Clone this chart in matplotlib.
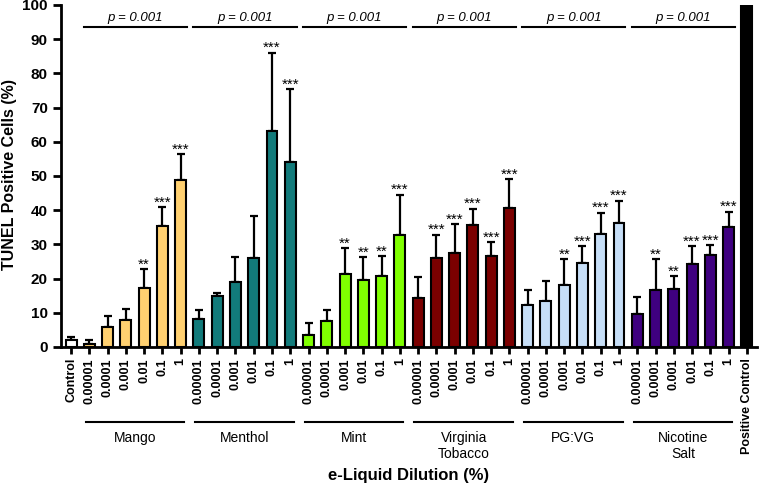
import matplotlib
matplotlib.use("Agg")
import matplotlib.pyplot as plt
import matplotlib.transforms as mtransforms
import numpy as np

plt.rcParams['font.family'] = ['Liberation Sans', 'DejaVu Sans']

groups = ["Mango", "Menthol", "Mint", "Virginia\nTobacco", "PG:VG", "Nicotine\nSalt"]
dilutions = ["0.00001", "0.0001", "0.001", "0.01", "0.1", "1"]
group_colors = ["#FFD070", "#127B7B", "#80FF00", "#7B0000", "#C6DEF7", "#3F0080"]

control_mean = 2.0
control_err = 1.0
positive_mean = 100.0

means = {
    "Mango":    [0.8, 5.7, 7.9, 17.2, 35.4, 48.8],
    "Menthol":  [8.2, 14.8, 19.1, 26.1, 63.1, 54.1],
    "Mint":     [3.4, 7.7, 21.4, 19.6, 20.8, 32.7],
    "Virginia\nTobacco": [14.3, 25.9, 27.5, 35.7, 26.7, 40.5],
    "PG:VG":    [12.2, 13.3, 18.2, 24.6, 33.1, 36.2],
    "Nicotine\nSalt": [9.7, 16.8, 17.0, 24.3, 26.8, 35.1],
}
errs = {
    "Mango":    [1.2, 3.3, 3.1, 5.5, 5.4, 7.5],
    "Menthol":  [2.6, 1.1, 7.1, 12.2, 22.9, 21.2],
    "Mint":     [3.6, 3.2, 7.5, 6.6, 5.7, 11.8],
    "Virginia\nTobacco": [6.3, 6.9, 8.4, 4.7, 3.9, 8.6],
    "PG:VG":    [4.4, 5.9, 7.5, 4.9, 6.2, 6.5],
    "Nicotine\nSalt": [4.9, 8.9, 3.7, 5.2, 2.9, 4.5],
}
stars = {
    "Mango":    ["", "", "", "**", "***", "***"],
    "Menthol":  ["", "", "", "", "***", "***"],
    "Mint":     ["", "", "**", "**", "**", "***"],
    "Virginia\nTobacco": ["", "***", "***", "***", "***", "***"],
    "PG:VG":    ["", "", "**", "***", "***", "***"],
    "Nicotine\nSalt": ["", "**", "**", "***", "***", "***"],
}
p_text = "p = 0.001"

fig = plt.figure(figsize=(7.63, 4.87), dpi=100)
ax = fig.add_axes([0.080, 0.2875, 0.912, 0.7025])

width = 0.6
ekw = dict(elinewidth=1.6, capthick=1.6, ecolor="black")
# control
ax.bar(0, control_mean, width=width, color="white", edgecolor="black", linewidth=1.5, zorder=2)
ax.errorbar(0, control_mean, yerr=[[0], [control_err]], fmt="none", capsize=3, zorder=1, **ekw)

labels = ["Control"]
pos = 1
group_spans = []
for g, col in zip(groups, group_colors):
    xs = np.arange(pos, pos + len(dilutions))
    m = np.array(means[g]); e = np.array(errs[g])
    ax.bar(xs, m, width=width, color=col, edgecolor="black", linewidth=1.5, zorder=2)
    ax.errorbar(xs, m, yerr=[np.zeros_like(e), e], fmt="none", capsize=3, zorder=1, **ekw)
    for x, mv, ev, s in zip(xs, m, e, stars[g]):
        if s:
            ax.text(x, mv + ev + 0.2, s, ha="center", va="baseline", fontsize=11)
    group_spans.append((xs[0], xs[-1], g))
    labels += dilutions
    pos += len(dilutions)

ax.bar(pos, positive_mean, width=width, color="black", edgecolor="black", linewidth=1.5, zorder=2)
labels.append("Positive Control")
n = pos + 1

ax.set_xlim(-0.55, n - 1 + 0.55)
ax.set_ylim(0, 100)
ax.set_yticks(np.arange(0, 101, 10))
ax.set_xticks(np.arange(n))
ax.set_xticklabels(labels, rotation=90, fontsize=9, fontweight="bold")
for lab in ax.get_yticklabels():
    lab.set_fontweight("bold")
ax.tick_params(axis="y", labelsize=11, width=2, length=6, direction="out")
ax.tick_params(axis="x", width=2, length=5, direction="out", pad=3)
for s in ["top", "right"]:
    ax.spines[s].set_visible(False)
for s in ["left", "bottom"]:
    ax.spines[s].set_linewidth(2)

# p-value lines
for x0, x1, g in group_spans:
    ax.plot([x0 - 0.3, x1 + 0.35], [93.5, 93.5], color="black", lw=1.5, clip_on=False)
    ax.text((x0 + x1) / 2 + 0.02, 95.3, p_text, ha="center", va="baseline", fontsize=9.5, style="italic")

# group brackets below
trans = mtransforms.blended_transform_factory(ax.transData, ax.transAxes)
for x0, x1, g in group_spans:
    ax.plot([x0 - 0.2, x1 + 0.2], [-0.219, -0.219], color="black", lw=1.5, transform=trans, clip_on=False)
    ax.text((x0 + x1) / 2, -0.245, g, ha="center", va="top", fontsize=10, transform=trans, linespacing=1.2)

fig.text(9.5 / 763, 1 - 175 / 487, "TUNEL Positive Cells (%)", rotation=90, ha="center", va="center",
         fontsize=11.5, fontweight="bold")
ax.text(0.5, -0.355, "e-Liquid Dilution (%)", ha="center", va="top", fontsize=12, fontweight="bold", transform=ax.transAxes)

fig.savefig("out.png", dpi=100)
